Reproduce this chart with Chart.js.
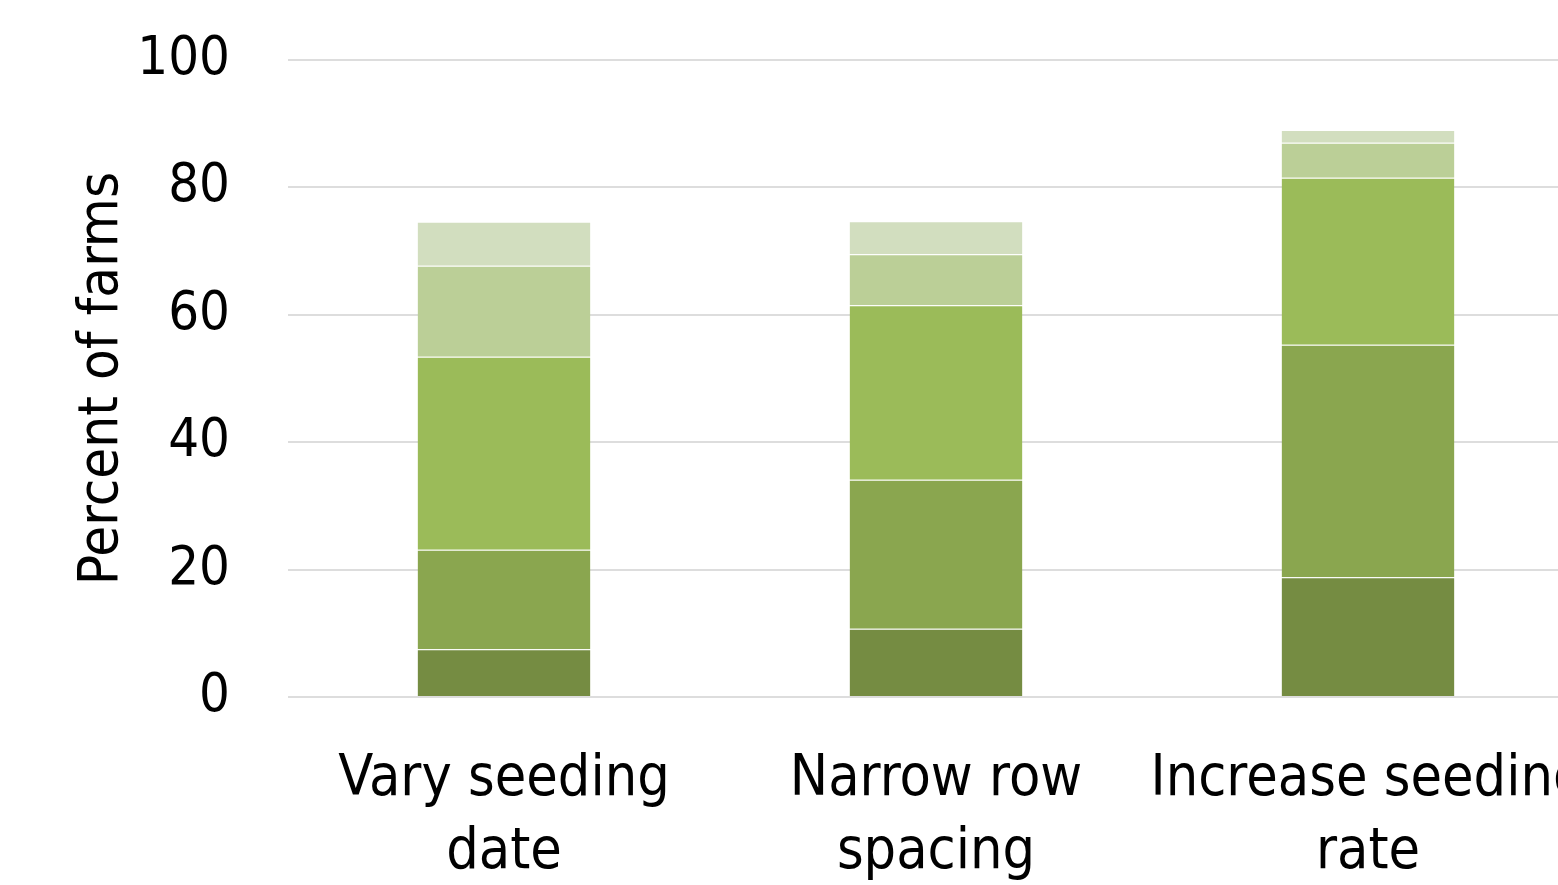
<!DOCTYPE html>
<html>
<head>
<meta charset="utf-8">
<script src="https://cdn.jsdelivr.net/npm/chart.js@4"></script>
<style>
  html, body { margin: 0; padding: 0; background: #fff; overflow: hidden; }
  #wrap { width: 1600px; height: 885px; }
</style>
</head>
<body>
<div id="wrap"><canvas id="bars" width="1600" height="885"></canvas></div>
<script>
// practices adopted, stacked by share of farms
const categories = [['Vary seeding', 'date'], ['Narrow row', 'spacing'], ['Increase seeding', 'rate']];
const shade1 = [7.5, 10.7, 18.8];
const shade2 = [15.6, 23.4, 36.5];
const shade3 = [30.3, 27.4, 26.2];
const shade4 = [14.3, 8.0, 5.5];
const shade5 = [6.9, 5.2, 2.0];
const yTicks = [0, 20, 40, 60, 80, 100];

const colors = ['#758C42', '#8AA64F', '#9BBB59', '#BBCF97', '#D2DEBF'];
const series = [shade1, shade2, shade3, shade4, shade5];

const font = "'Liberation Sans Narrow', 'Arial Narrow', 'DejaVu Sans Condensed', sans-serif";

const ctx = document.getElementById('bars').getContext('2d');
window.chart = new Chart(ctx, {
    type: 'bar',
    data: {
        labels: categories,
        datasets: series.map(function (vals, i) {
            return {
                data: vals,
                backgroundColor: colors[i],
                borderColor: 'rgba(255,255,255,0.25)',
                borderWidth: { top: 1, left: 0, right: 0, bottom: 0 },
                borderSkipped: false,
                barPercentage: 0.4,
                categoryPercentage: 1
            };
        })
    },
    options: {
        responsive: false,
        animation: false,
        devicePixelRatio: 1,
        layout: { padding: { top: 60, right: 16, bottom: 0, left: 65 } },
        plugins: { legend: { display: false }, tooltip: { enabled: false } },
        scales: {
            x: {
                stacked: true,
                grid: { display: false, drawTicks: false },
                border: { display: false },
                ticks: {
                    color: '#000',
                    padding: 47,
                    font: { family: font, size: 57, lineHeight: 1.28 },
                    maxRotation: 0,
                    autoSkip: false
                },
                afterFit: function (scale) {
                    scale.height = 188;
                    scale.paddingLeft = 0;
                    scale.paddingRight = 0;
                }
            },
            y: {
                stacked: true,
                min: 0,
                max: 100,
                afterBuildTicks: function (scale) {
                    scale.ticks = yTicks.map(function (v) { return { value: v }; });
                },
                grid: { color: '#DDDDDD', lineWidth: 2, drawTicks: false },
                border: { display: false },
                ticks: {
                    color: '#000',
                    padding: 58,
                    font: { family: font, size: 54 }
                },
                title: {
                    display: true,
                    text: 'Percent of farms',
                    color: '#000',
                    font: { family: font, size: 56 },
                    padding: { top: 4, bottom: 4 }
                },
                afterFit: function (scale) {
                    scale.width = 223;
                    scale.paddingTop = 0;
                    scale.paddingBottom = 0;
                }
            }
        }
    }
});
</script>
</body>
</html>
